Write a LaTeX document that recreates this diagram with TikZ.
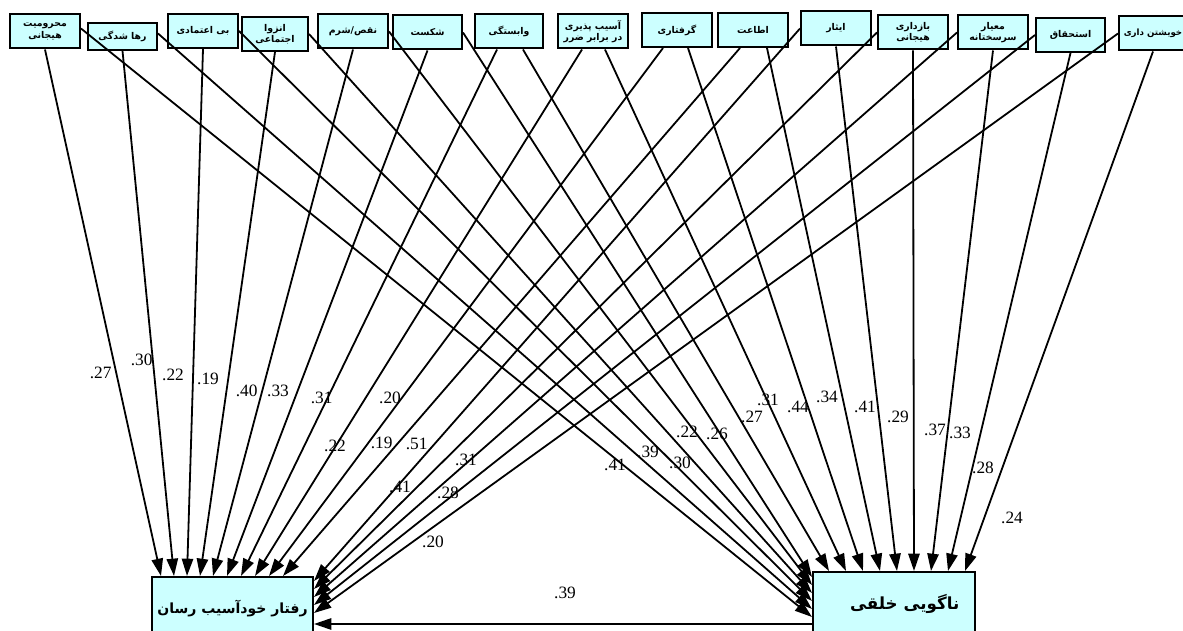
\documentclass[tikz,border=0pt]{standalone}
\usepackage{fontspec}
\setmainfont{Liberation Serif}
\newfontfamily\fa[Script=Arabic]{DejaVu Sans}
\TeXXeTstate=1
\usetikzlibrary{arrows.meta,calc}
\definecolor{boxfill}{RGB}{204,255,255}
\begin{document}
\begin{tikzpicture}[x=0.75pt,y=-0.75pt,
  src/.style={draw=black, fill=boxfill, line width=1.5pt, minimum width=52.5pt,
    minimum height=25.5pt, inner sep=1pt, align=center,
    font=\fa\bfseries\fontsize{7}{8.5}\selectfont},
  tgt/.style={draw=black, fill=boxfill, line width=1.5pt, minimum width=121pt,
    minimum height=48pt, inner sep=1pt},
  arr/.style={line width=1.35pt, -{Triangle[length=13pt,width=8.5pt]}},
  lab/.style={font=\fontsize{13}{15}\selectfont, inner sep=0pt}]
\useasboundingbox (0,0) rectangle (1183,631);
\fill[white] (0,0) rectangle (1183,631);

% source boxes
\node[src] (b1) at (45,31.5) {\beginR محرومیت\endR\\\beginR هیجانی\endR};
\node[src, minimum height=20pt, minimum width=51.75pt] (b2) at (122.5,36.5) {\beginR رها شدگی\endR};
\node[src] (b3) at (203,31) {\beginR بی اعتمادی\endR};
\node[src, minimum width=49.5pt] (b4) at (275,34) {\beginR انزوا\endR\\\beginR اجتماعی\endR};
\node[src] (b5) at (353,31.5) {\beginR نقص/شرم\endR};
\node[src, minimum width=51.75pt] (b6) at (427.5,32.5) {\beginR شکست\endR};
\node[src, minimum width=51pt] (b7) at (509,31.5) {\beginR وابستگی\endR};
\node[src] (b8) at (593,31.5) {\beginR آسیب پذیری\endR\\\beginR در برابر ضرر\endR};
\node[src] (b9) at (677,30) {\beginR گرفتاری\endR};
\node[src] (b10) at (753,30) {\beginR اطاعت\endR};
\node[src] (b11) at (836,28.5) {\beginR ایثار\endR};
\node[src] (b12) at (913,32.5) {\beginR بازداری\endR\\\beginR هیجانی\endR};
\node[src] (b13) at (993,32.5) {\beginR معیار\endR\\\beginR سرسختانه\endR};
\node[src, minimum width=51.75pt] (b14) at (1070.5,35) {\beginR استحقاق\endR};
\node[src, minimum width=51pt, font=\fa\bfseries\fontsize{6.5}{8}\selectfont] (b15) at (1153,33.5) {\beginR خویشتن داری\endR};

% target boxes
\node[tgt, minimum width=120.75pt, minimum height=47.25pt,
  font=\fa\bfseries\fontsize{10.5}{12}\selectfont] (L) at (232.5,608.5)
  {\raisebox{2pt}{\beginR رفتار خودآسیب رسان\endR}};
\node[tgt, minimum width=121.5pt, minimum height=51pt,
  font=\fa\bfseries\fontsize{12.5}{14}\selectfont] (R) at (894,606)
  {\hspace*{16pt}\raisebox{6pt}{\beginR ناگویی خلقی\endR}};

% arrows to left target
\draw[arr] (b1.south) -- ($(L.north west)+(10,0)$);
\draw[arr] (b2.south) -- ($(L.north west)+(23,0)$);
\draw[arr] (b3.south) -- ($(L.north west)+(36,0)$);
\draw[arr] (b4.south) -- ($(L.north west)+(49,0)$);
\draw[arr] (b5.south) -- ($(L.north west)+(62,0)$);
\draw[arr] (b6.south) -- ($(L.north west)+(76,0)$);
\draw[arr] ($(b7.south)+(-12,0)$) -- ($(L.north west)+(90,0)$);
\draw[arr] ($(b8.south)+(-11,0)$) -- ($(L.north west)+(104,0)$);
\draw[arr] ($(b9.south)+(-14,0)$) -- ($(L.north west)+(118,0)$);
\draw[arr] ($(b10.south)+(-13,0)$) -- ($(L.north west)+(132,0)$);
\draw[arr] (b11.west) -- ($(L.north east)+(0,5)$);
\draw[arr] (b12.west) -- ($(L.north east)+(0,13)$);
\draw[arr] (b13.west) -- ($(L.north east)+(0,21)$);
\draw[arr] (b14.west) -- ($(L.north east)+(0,29)$);
\draw[arr] (b15.west) -- ($(L.north east)+(0,37)$);

% arrows to right target
\draw[arr] ($(b1.east)+(0,-3)$) -- ($(R.north west)+(0,46)$);
\draw[arr] ($(b2.east)+(0,-3)$) -- ($(R.north west)+(0,38)$);
\draw[arr] (b3.east) -- ($(R.north west)+(0,30)$);
\draw[arr] (b4.east) -- ($(R.north west)+(0,22)$);
\draw[arr] (b5.east) -- ($(R.north west)+(0,14)$);
\draw[arr] (b6.east) -- ($(R.north west)+(0,6)$);
\draw[arr] ($(b7.south)+(14,0)$) -- ($(R.north west)+(17,0)$);
\draw[arr] ($(b8.south)+(12,0)$) -- ($(R.north west)+(34,0)$);
\draw[arr] ($(b9.south)+(11,0)$) -- ($(R.north west)+(51,0)$);
\draw[arr] ($(b10.south)+(14,0)$) -- ($(R.north west)+(68,0)$);
\draw[arr] (b11.south) -- ($(R.north west)+(85,0)$);
\draw[arr] (b12.south) -- ($(R.north west)+(102,0)$);
\draw[arr] (b13.south) -- ($(R.north west)+(119,0)$);
\draw[arr] (b14.south) -- ($(R.north west)+(136,0)$);
\draw[arr] (b15.south) -- ($(R.north west)+(153,0)$);

% arrow between targets
\draw[arr] ($(R.north west)+(0,53)$) -- ($(L.north east)+(0,48)$);

% labels, left-target paths
\node[lab] (l1) at (100.7,372.7) {.27};
\node[lab] (l2) at (141.7,360) {.30};
\node[lab] (l3) at (173,375) {.22};
\node[lab] (l4) at (208,379) {.19};
\node[lab] (l5) at (246.7,391) {.40};
\node[lab] (l6) at (278,391) {.33};
\node[lab] (l7) at (321.7,398) {.31};
\node[lab] (l8) at (390,398) {.20};
\node[lab] (l9) at (335,446) {.22};
\node[lab] (l10) at (381.7,443) {.19};
\node[lab] (l11) at (416.7,444) {.51};
\node[lab] (l12) at (466,460) {.31};
\node[lab] (l13) at (400,487) {.41};
\node[lab] (l14) at (448,493) {.28};
\node[lab] (l15) at (433,542) {.20};
% labels, right-target paths
\node[lab] (r1) at (615,465) {.41};
\node[lab] (r2) at (648,452) {.39};
\node[lab] (r3) at (680,463) {.30};
\node[lab] (r4) at (687,432) {.22};
\node[lab] (r5) at (717,434) {.26};
\node[lab] (r6) at (752,417) {.27};
\node[lab] (r7) at (768,400) {.31};
\node[lab] (r8) at (798,407) {.44};
\node[lab] (r9) at (827,397) {.34};
\node[lab] (r10) at (865,407) {.41};
\node[lab] (r11) at (898,417) {.29};
\node[lab] (r12) at (935,430) {.37};
\node[lab] (r13) at (960,433) {.33};
\node[lab] (r14) at (983,468) {.28};
\node[lab] (r15) at (1012,518) {.24};
\node[lab] (c1) at (565,593) {.39};
\end{tikzpicture}
\end{document}
